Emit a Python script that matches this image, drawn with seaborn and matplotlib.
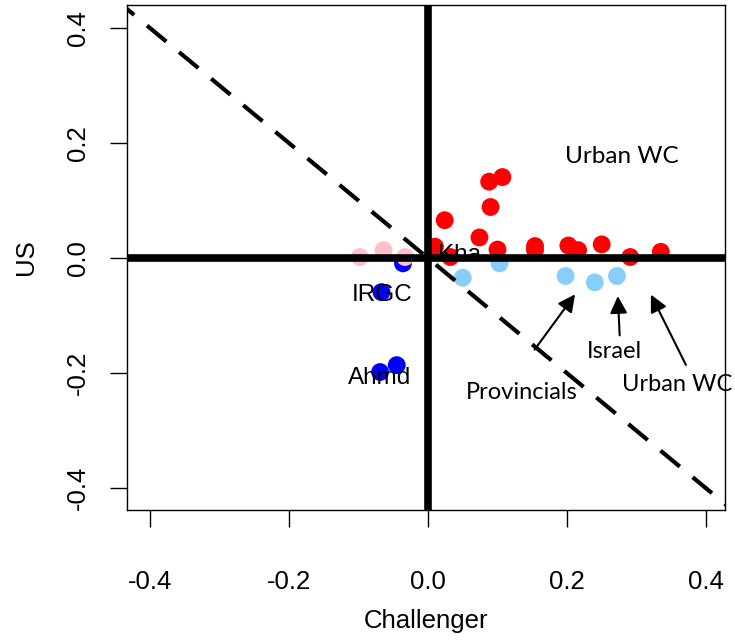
import matplotlib
matplotlib.use("Agg")
import matplotlib.pyplot as plt
import pandas as pd
import seaborn as sns

# points (Challenger, US)
blue_x = [-0.036, -0.067, -0.069, -0.045]
blue_y = [-0.009, -0.059, -0.198, -0.186]

pink_x = [-0.098, -0.064, -0.033]
pink_y = [0.002, 0.014, 0.002]

red_x = [0.010, 0.032, 0.024, 0.088, 0.107, 0.090, 0.074, 0.100,
         0.154, 0.154, 0.202, 0.216, 0.250, 0.291, 0.335]
red_y = [0.020, 0.002, 0.066, 0.133, 0.141, 0.089, 0.036, 0.015,
         0.021, 0.014, 0.022, 0.014, 0.024, 0.002, 0.011]

lblue_x = [0.050, 0.103, 0.198, 0.240, 0.272]
lblue_y = [-0.034, -0.009, -0.031, -0.042, -0.031]

groups = ["blue", "pink", "red", "lightblue"]
colors = {"blue": "#0000FF", "pink": "#FFC0CB", "red": "#FF0000", "lightblue": "#87CEFA"}

df = pd.concat([
    pd.DataFrame({"Challenger": blue_x, "US": blue_y, "grp": "blue"}),
    pd.DataFrame({"Challenger": pink_x, "US": pink_y, "grp": "pink"}),
    pd.DataFrame({"Challenger": red_x, "US": red_y, "grp": "red"}),
    pd.DataFrame({"Challenger": lblue_x, "US": lblue_y, "grp": "lightblue"}),
], ignore_index=True)

point_labels = ["Kha", "IRGC", "Ahmd"]
point_label_xy = [(0.046, 0.005), (-0.066, -0.064), (-0.069, -0.209)]

notes = ["Provincials", "Israel", "Urban WC"]
note_text_xy = [(0.135, -0.233), (0.269, -0.163), (0.358, -0.219)]
note_tip_xy = [(0.214, -0.059), (0.273, -0.061), (0.319, -0.059)]
note_start_xy = [(0.151, -0.163), (0.276, -0.139), (0.373, -0.190)]

ticks = [-0.4, -0.2, 0.0, 0.2, 0.4]
tick_labels = ["-0.4", "-0.2", "0.0", "0.2", "0.4"]

sns.set_style("white")
plt.rcParams["font.family"] = ["Liberation Sans", "DejaVu Sans"]
plt.rcParams["text.color"] = "black"
plt.rcParams["axes.labelcolor"] = "black"

fig = plt.figure(figsize=(7.35, 6.4), dpi=100)
ax = fig.add_axes([0.173, 0.203, 0.813, 0.789])

sns.scatterplot(data=df, x="Challenger", y="US", hue="grp", palette=colors,
                hue_order=groups, s=165, linewidth=0, legend=False, ax=ax, zorder=2)

ax.set_xlim(-0.433, 0.427)
ax.set_ylim(-0.438, 0.44)

# reference lines
ax.axhline(0, color="black", lw=5.5, zorder=3)
ax.axvline(0, color="black", lw=5.5, zorder=3)
ax.plot([-0.5, 0.5], [0.5, -0.5], color="black", lw=3, ls=(0, (6, 4)), zorder=3)

for lab, (tx, ty) in zip(point_labels, point_label_xy):
    ax.text(tx, ty, lab, fontsize=17.5, ha="center", va="center", zorder=4)

ax.text(0.279, 0.177, "Urban WC", fontsize=17.5, family="Lato", ha="center", va="center")
for lab, (tx, ty), tip, start in zip(notes, note_text_xy, note_tip_xy, note_start_xy):
    ax.text(tx, ty, lab, fontsize=17, family="Lato", ha="center", va="center", clip_on=False)
    ax.annotate("", xy=tip, xytext=start,
                arrowprops=dict(arrowstyle="-|>", color="black", lw=1.5, mutation_scale=26))

ax.set_xticks(ticks)
ax.set_xticklabels(tick_labels)
ax.set_yticks(ticks)
ax.set_yticklabels(tick_labels, rotation=90, va="center")
ax.tick_params(axis="both", direction="out", length=12, width=1, labelsize=18.5,
               bottom=True, left=True, colors="black")
ax.tick_params(axis="x", pad=31)
ax.tick_params(axis="y", pad=15)
ax.set_xlabel("Challenger", fontsize=18.5, labelpad=11)
ax.set_ylabel("US", fontsize=18.5, labelpad=20)
for sp in ax.spines.values():
    sp.set_color("black")
    sp.set_linewidth(1)

fig.savefig("out.png", dpi=100)
